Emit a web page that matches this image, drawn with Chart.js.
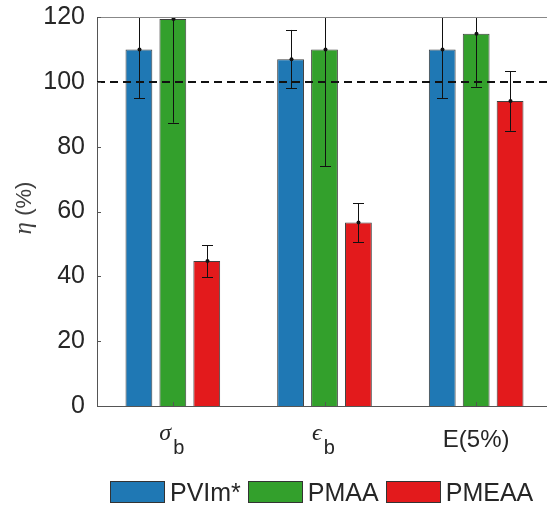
<!DOCTYPE html>
<html>
<head>
<meta charset="utf-8">
<script src="https://cdn.jsdelivr.net/npm/chart.js@4/dist/chart.umd.min.js"></script>
<style>
  html, body { margin: 0; padding: 0; background: #fff; overflow: hidden; }
  #wrap { position: relative; width: 547px; height: 508px; overflow: hidden; }
  #c { position: absolute; left: 0; top: 0; }
  #legend { position: absolute; left: 110px; top: 481px; display: flex; align-items: center;
            font-family: "Liberation Sans", Arial, sans-serif; font-size: 25px; color: #262626; line-height: 22px; }
  .item { display: flex; align-items: center; margin-right: 7px; }
  .box { width: 55px; height: 22px; box-sizing: border-box; border: 1px solid #333; margin-right: 5px; }
</style>
</head>
<body>
<div id="wrap">
  <canvas id="c" width="559" height="508"></canvas>
  <div id="legend"></div>
</div>
<script>
// ---- data ----
const categories = ['σ_b', 'ϵ_b', 'E(5%)'];
const seriesNames = ['PVIm*', 'PMAA', 'PMEAA'];
const pvimValues = [110, 107, 110];
const pvimErrors = [15, 9, 15];
const pmaaValues = [119.4, 110, 114.8];
const pmaaErrors = [32, 36, 16.3];
const pmeaaValues = [44.7, 56.6, 94.1];
const pmeaaErrors = [4.9, 6, 9.2];
const yTicks = [0, 20, 40, 60, 80, 100, 120];
const referenceLine = 100;
const yTitleSymbol = 'η';
const yTitleUnit = '(%)';

const colors = ['#1f78b4', '#33a02c', '#e31a1c'];
const valueSets = [pvimValues, pmaaValues, pmeaaValues];
const errorSets = [pvimErrors, pmaaErrors, pmeaaErrors];

const SANS = '"Liberation Sans", Arial, sans-serif';
const SERIF = '"Liberation Serif", "DejaVu Serif", serif';
const TEXT = '#262626';

const overlay = {
  id: 'overlay',
  afterDatasetsDraw(chart) {
    const { ctx, chartArea: a, scales: { x, y } } = chart;
    ctx.save();
    ctx.beginPath();
    ctx.rect(a.left, a.top, a.right - a.left, a.bottom - a.top);
    ctx.clip();
    // reference dashed line
    const yr = Math.round(y.getPixelForValue(referenceLine));
    ctx.strokeStyle = '#111';
    ctx.lineWidth = 2;
    ctx.setLineDash([8, 5]);
    ctx.beginPath();
    ctx.moveTo(a.left, yr);
    ctx.lineTo(a.right, yr);
    ctx.stroke();
    ctx.setLineDash([]);
    // error bars
    ctx.strokeStyle = '#111';
    ctx.fillStyle = '#111';
    ctx.lineWidth = 1;
    valueSets.forEach((vals, di) => {
      const meta = chart.getDatasetMeta(di);
      vals.forEach((v, j) => {
        const e = errorSets[di][j];
        const cx = Math.round(meta.data[j].x) + 0.5;
        const yt = y.getPixelForValue(v + e);
        const yb = y.getPixelForValue(v - e);
        const yv = y.getPixelForValue(v);
        ctx.beginPath();
        ctx.moveTo(cx, yt); ctx.lineTo(cx, yb);
        ctx.moveTo(cx - 5.5, Math.round(yt) + 0.5); ctx.lineTo(cx + 5.5, Math.round(yt) + 0.5);
        ctx.moveTo(cx - 5.5, Math.round(yb) + 0.5); ctx.lineTo(cx + 5.5, Math.round(yb) + 0.5);
        ctx.stroke();
        ctx.beginPath();
        ctx.arc(cx, yv, 2, 0, Math.PI * 2);
        ctx.fill();
      });
    });
    ctx.restore();

    ctx.save();
    // top border
    ctx.strokeStyle = '#888';
    ctx.lineWidth = 1;
    ctx.beginPath();
    ctx.moveTo(a.left, Math.round(a.top) + 0.5);
    ctx.lineTo(a.right, Math.round(a.top) + 0.5);
    ctx.stroke();
    // inside ticks
    ctx.strokeStyle = '#555';
    ctx.beginPath();
    y.ticks.forEach(t => {
      const py = Math.round(y.getPixelForValue(t.value)) + 0.5;
      ctx.moveTo(a.left, py); ctx.lineTo(a.left + 4, py);
    });
    categories.forEach((c, i) => {
      const px = Math.round(x.getPixelForValue(i)) + 0.5;
      ctx.moveTo(px, a.bottom); ctx.lineTo(px, a.bottom - 4);
    });
    ctx.stroke();

    // x category labels with subscripts
    ctx.fillStyle = TEXT;
    ctx.textBaseline = 'alphabetic';
    ctx.textAlign = 'left';
    categories.forEach((c, i) => {
      const cx = x.getPixelForValue(i);
      const parts = c.split('_');
      if (parts.length === 2) {
        ctx.font = 'italic 24px ' + SERIF;
        const w1 = ctx.measureText(parts[0]).width;
        ctx.font = '20px ' + SANS;
        const w2 = ctx.measureText(parts[1]).width;
        const start = cx - (w1 + 2 + w2) / 2 - 1;
        ctx.font = 'italic 24px ' + SERIF;
        ctx.fillText(parts[0], start, 440);
        ctx.font = '20px ' + SANS;
        ctx.fillText(parts[1], start + w1 + 2, 454);
      } else {
        ctx.font = '24px ' + SANS;
        ctx.textAlign = 'center';
        ctx.fillText(c, cx, 446.5);
        ctx.textAlign = 'left';
      }
    });

    // y title
    ctx.translate(31, 208);
    ctx.rotate(-Math.PI / 2);
    ctx.font = 'italic 25px ' + SERIF;
    const ws = ctx.measureText(yTitleSymbol + ' ').width;
    ctx.font = '22px ' + SANS;
    const wu = ctx.measureText(yTitleUnit).width;
    const s0 = -(ws + wu) / 2;
    ctx.fillStyle = '#404040';
    ctx.font = 'italic 25px ' + SERIF;
    ctx.fillText(yTitleSymbol, s0, 0);
    ctx.font = '22px ' + SANS;
    ctx.fillText(yTitleUnit, s0 + ws, 0);
    ctx.restore();
  }
};

const chart = new Chart(document.getElementById('c'), {
  type: 'bar',
  data: {
    labels: categories,
    datasets: seriesNames.map((n, i) => ({
      label: n,
      data: valueSets[i],
      backgroundColor: colors[i],
      borderColor: 'rgba(30,30,30,0.85)',
      borderWidth: 1,
      barPercentage: 0.79,
      categoryPercentage: 0.671
    }))
  },
  options: {
    responsive: false,
    animation: false,
    devicePixelRatio: 1,
    layout: { padding: { top: 17, right: 7, left: 0, bottom: 0 } },
    plugins: { legend: { display: false }, tooltip: { enabled: false } },
    scales: {
      x: {
        offset: true,
        grid: { display: false, drawTicks: false },
        border: { display: true, color: '#555', width: 1 },
        ticks: { display: false },
        afterFit: s => { s.height = 102; s.paddingLeft = 0; s.paddingRight = 0; }
      },
      y: {
        min: 0, max: 120,
        afterBuildTicks: s => { s.ticks = yTicks.map(v => ({ value: v })); },
        grid: { display: false, drawTicks: false },
        border: { display: true, color: '#555', width: 1 },
        ticks: { color: TEXT, padding: 12, font: { family: SANS, size: 25 } },
        afterFit: s => { s.width = 97; s.paddingTop = 0; s.paddingBottom = 0; }
      }
    }
  },
  plugins: [overlay]
});

// HTML legend from datasets
const leg = document.getElementById('legend');
chart.data.datasets.forEach(ds => {
  const it = document.createElement('div');
  it.className = 'item';
  const b = document.createElement('div');
  b.className = 'box';
  b.style.background = ds.backgroundColor;
  const t = document.createElement('span');
  t.textContent = ds.label;
  it.appendChild(b); it.appendChild(t);
  leg.appendChild(it);
});
</script>
</body>
</html>
